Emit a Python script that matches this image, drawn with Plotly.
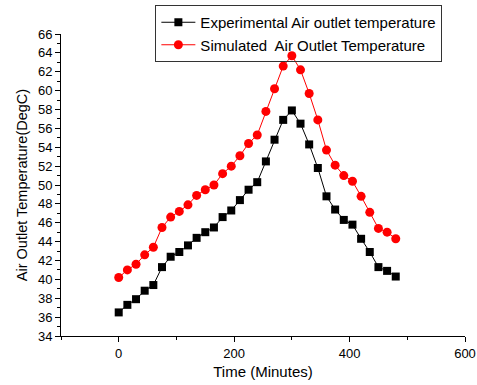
import plotly.graph_objects as go

time_min = [0, 15, 30, 45, 60, 75, 90, 105, 120, 135, 150, 165, 180, 195, 210, 225, 240,
            255, 270, 285, 300, 315, 330, 345, 360, 375, 390, 405, 420, 435, 450, 465, 480]

experimental = [36.5, 37.3, 37.9, 38.8, 39.4, 41.3, 42.4, 42.9, 43.6, 44.4, 45.0, 45.5,
                46.6, 47.3, 48.4, 49.5, 50.3, 52.5, 54.8, 56.9, 57.9, 56.5, 54.3, 51.8,
                48.8, 47.4, 46.3, 45.8, 44.3, 42.9, 41.3, 40.9, 40.3]

simulated = [40.2, 41.0, 41.6, 42.6, 43.4, 45.5, 46.6, 47.2, 47.9, 48.9, 49.5, 50.0,
             51.2, 52.0, 53.1, 54.4, 55.3, 57.8, 60.2, 62.6, 63.7, 62.2, 59.7, 56.9,
             53.7, 52.1, 51.0, 50.4, 48.8, 47.1, 45.4, 45.0, 44.3]

series_names = ["Experimental Air outlet temperature",
                "Simulated\u00a0 Air Outlet Temperature"]

font_family = "Liberation Sans, Arial, sans-serif"

fig = go.Figure()
fig.add_trace(go.Scatter(
    x=time_min, y=experimental, mode="lines+markers", name=series_names[0],
    line=dict(color="black", width=1),
    marker=dict(symbol="square", size=8, color="black"),
))
fig.add_trace(go.Scatter(
    x=time_min, y=simulated, mode="lines+markers", name=series_names[1],
    line=dict(color="red", width=1),
    marker=dict(symbol="circle", size=9, color="red"),
))

fig.update_layout(
    width=477, height=385,
    margin=dict(l=60.5, r=12, t=34, b=49.3, autoexpand=False),
    paper_bgcolor="white", plot_bgcolor="white",
    font=dict(family=font_family, color="black", size=13),
    showlegend=True,
    legend=dict(
        x=0.2336, y=1.096, xanchor="left", yanchor="top",
        bgcolor="rgba(255,255,255,0)", bordercolor="#333333", borderwidth=1,
        font=dict(size=15, family=font_family),
        tracegroupgap=0, itemwidth=34,
    ),
    xaxis=dict(
        range=[-100, 600], dtick=200, tick0=0, automargin=False,
        showline=True, linecolor="black", linewidth=1,
        ticks="outside", ticklen=5, tickcolor="black",
        minor=dict(ticks="outside", ticklen=3, dtick=100, tickcolor="black"),
        showgrid=False, zeroline=False,
        title=dict(text="Time (Minutes)", font=dict(size=15), standoff=6),
        tickfont=dict(size=13),
    ),
    yaxis=dict(
        range=[34, 66], dtick=2, tick0=34, automargin=False,
        showline=True, linecolor="black", linewidth=1,
        ticks="outside", ticklen=5, tickcolor="black",
        minor=dict(ticks="outside", ticklen=3, dtick=1, tickcolor="black"),
        showgrid=False, zeroline=False,
        title=dict(text="Air Outlet Temperature(DegC)", font=dict(size=14.5), standoff=6),
        tickfont=dict(size=13),
    ),
)

fig.write_html(
    "out.html",
    config={"displayModeBar": False},
    post_script="document.body.style.margin='0';document.body.style.overflow='hidden';",
)
